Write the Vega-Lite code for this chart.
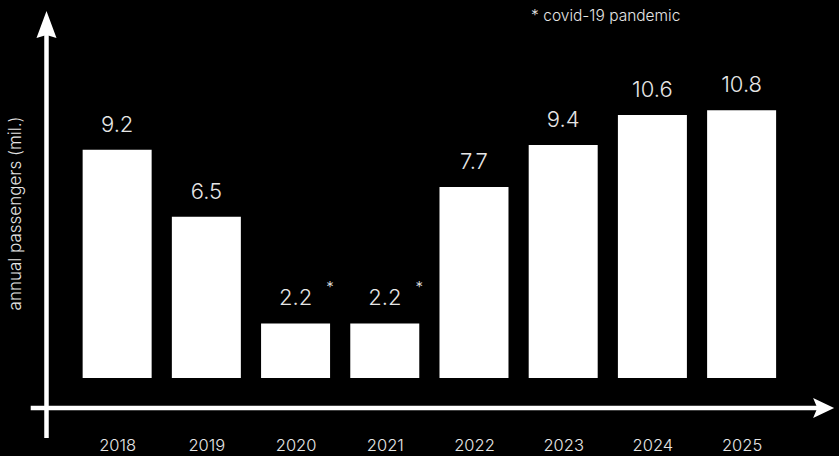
{
  "$schema": "https://vega.github.io/schema/vega-lite/v6.json",
  "width": 839,
  "height": 456,
  "autosize": {"type": "none"},
  "padding": 0,
  "background": "black",
  "config": {"view": {"stroke": null}, "font": "Inter"},
  "data": {
    "values": [
      {"year": 2018, "passengers": 9.2, "note": ""},
      {"year": 2019, "passengers": 6.5, "note": ""},
      {"year": 2020, "passengers": 2.2, "note": "*"},
      {"year": 2021, "passengers": 2.2, "note": "*"},
      {"year": 2022, "passengers": 7.7, "note": ""},
      {"year": 2023, "passengers": 9.4, "note": ""},
      {"year": 2024, "passengers": 10.6, "note": ""},
      {"year": 2025, "passengers": 10.8, "note": ""}
    ]
  },
  "layer": [
    {
      "mark": {"type": "bar", "color": "white", "width": 69},
      "encoding": {
        "x": {
          "field": "year",
          "type": "quantitative",
          "scale": {"domain": [2016.74288, 2026.0356], "nice": false, "zero": false},
          "axis": {
            "values": [2018, 2019, 2020, 2021, 2022, 2023, 2024, 2025],
            "format": "d",
            "title": null,
            "domain": false,
            "ticks": false,
            "tickSize": 0,
            "grid": false,
            "labelColor": "#e6e6e6",
            "labelFontSize": 16.5,
            "labelFont": "Inter",
            "labelFontWeight": 300,
            "labelBaseline": "middle",
            "labelPadding": 0,
            "offset": -11
          }
        },
        "y": {
          "field": "passengers",
          "type": "quantitative",
          "scale": {"domain": [-3.1452, 15.2419], "nice": false, "zero": false},
          "axis": {
            "title": "annual passengers (mil.)",
            "labels": false,
            "ticks": false,
            "domain": false,
            "grid": false,
            "titleX": 15,
            "titleY": 213,
            "titleAngle": 270,
            "titleAlign": "center",
            "titleBaseline": "middle",
            "titleColor": "#e6e6e6",
            "titleFont": "Inter",
            "titleFontSize": 17,
            "titleFontWeight": 300
          }
        },
        "y2": {"datum": 0}
      }
    },
    {
      "mark": {"type": "text", "color": "#e6e6e6", "fontSize": 22, "fontWeight": 300, "baseline": "middle", "align": "center", "dy": -25},
      "encoding": {
        "x": {"field": "year", "type": "quantitative"},
        "y": {"field": "passengers", "type": "quantitative"},
        "text": {"field": "passengers", "type": "quantitative", "format": ".1f"}
      }
    },
    {
      "transform": [{"filter": "datum.note === '*'"}],
      "mark": {"type": "text", "color": "#e6e6e6", "fontSize": 15, "fontWeight": 300, "baseline": "middle", "align": "center", "dx": 34.5, "dy": -36},
      "encoding": {
        "x": {"field": "year", "type": "quantitative"},
        "y": {"field": "passengers", "type": "quantitative"},
        "text": {"field": "note"}
      }
    },
    {
      "data": {"values": [{}]},
      "mark": {"type": "rule", "color": "white", "strokeWidth": 4.5},
      "encoding": {
        "x": {"datum": 2017.031},
        "x2": {"datum": 2025.86},
        "y": {"datum": -1.2097}
      }
    },
    {
      "data": {"values": [{}]},
      "mark": {"type": "rule", "color": "white", "strokeWidth": 4.5},
      "encoding": {
        "x": {"datum": 2017.20807},
        "y": {"datum": -2.4194},
        "y2": {"datum": 14.0}
      }
    },
    {
      "data": {"values": [{}]},
      "mark": {"type": "point", "filled": true, "color": "white", "opacity": 1, "size": 441, "shape": "M1,0L-1,-0.95L-0.6,0L-1,0.95Z"},
      "encoding": {
        "x": {"datum": 2025.91927},
        "y": {"datum": -1.2097}
      }
    },
    {
      "data": {"values": [{}]},
      "mark": {"type": "point", "filled": true, "color": "white", "opacity": 1, "size": 400, "shape": "M0,-1.35L1,1.35L0,1.05L-1,1.35Z"},
      "encoding": {
        "x": {"datum": 2017.20807},
        "y": {"datum": 14.254}
      }
    },
    {
      "data": {"values": [{}]},
      "mark": {"type": "text", "color": "#e6e6e6", "fontSize": 15.5, "fontWeight": 300, "baseline": "middle", "align": "center", "text": "* covid-19 pandemic"},
      "encoding": {
        "x": {"datum": 2023.477},
        "y": {"datum": 14.597}
      }
    }
  ]
}
